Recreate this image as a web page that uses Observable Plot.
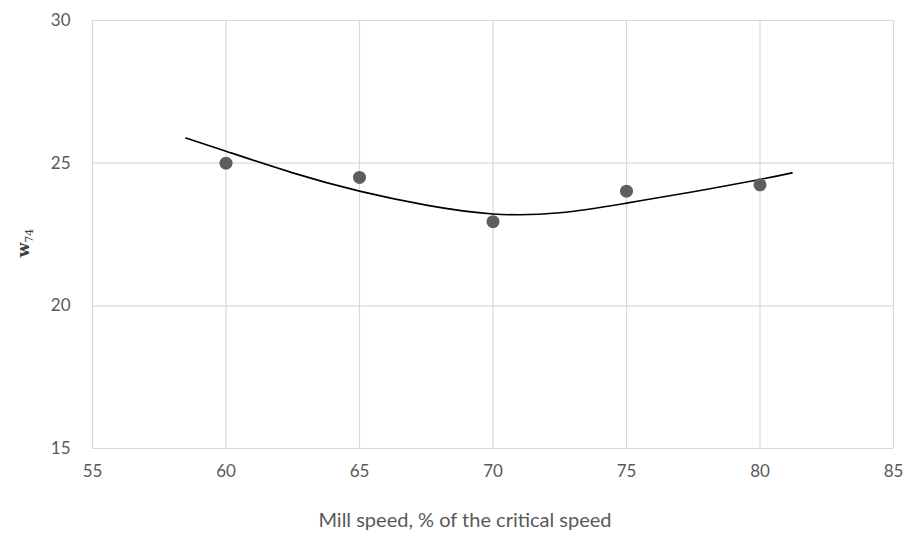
<!DOCTYPE html>
<html>
<head>
<meta charset="utf-8">
<script src="https://cdn.jsdelivr.net/npm/d3@7"></script>
<script src="https://cdn.jsdelivr.net/npm/@observablehq/plot@0.6"></script>
<style>
  html, body { margin: 0; padding: 0; background: #fff; }
  #chart svg { display: block; }
</style>
</head>
<body>
<div id="chart"></div>
<script>
// Measured points
const speeds = [60, 65, 70, 75, 80];
const w74 = [25.0, 24.5, 22.95, 24.02, 24.24];

// Trendline
const trendX = [58.5, 60, 62.5, 65, 67.5, 70, 72.5, 75, 77.5, 80, 81.2];
const trendY = [25.88, 25.42, 24.66, 24.02, 23.53, 23.22, 23.26, 23.6, 24.0, 24.43, 24.66];

const xTicks = [55, 60, 65, 70, 75, 80, 85];
const yTicks = [15, 20, 25, 30];

const xTitle = "Mill speed, % of the critical speed";

const points = speeds.map((s, i) => ({x: s, y: w74[i]}));
const trend = trendX.map((s, i) => ({x: s, y: trendY[i]}));

const FONT = "Lato, 'Open Sans', sans-serif";

const chart = Plot.plot({
  width: 910,
  height: 536,
  marginLeft: 92,
  marginRight: 17,
  marginTop: 20,
  marginBottom: 88,
  style: {fontFamily: FONT, fontSize: "17px", color: "#595959", background: "#fff"},
  x: {domain: [55, 85], ticks: xTicks, tickSize: 0, tickPadding: 16, label: null},
  y: {domain: [15, 30], ticks: yTicks, tickSize: 0, tickPadding: 22, label: null},
  marks: [
    Plot.gridX(xTicks, {stroke: "#d9d9d9", strokeOpacity: 1, strokeWidth: 1.2}),
    Plot.gridY(yTicks, {stroke: "#d9d9d9", strokeOpacity: 1, strokeWidth: 1.2}),
    Plot.line(trend, {x: "x", y: "y", stroke: "#000", strokeWidth: 1.6, curve: "natural"}),
    Plot.dot(points, {x: "x", y: "y", r: 6.5, fill: "#5e5e5e", stroke: "none"})
  ]
});

const svg = d3.select(chart);
svg.append("text")
  .attr("x", 465).attr("y", 527)
  .attr("text-anchor", "middle")
  .attr("fill", "#595959")
  .style("font-family", FONT)
  .style("font-size", "20px")
  .text(xTitle);

const yl = svg.append("text")
  .attr("transform", "translate(29,243) rotate(-90)")
  .attr("text-anchor", "middle")
  .attr("fill", "#404040")
  .style("font-family", "'DejaVu Serif', serif")
  .style("font-weight", "bold")
  .style("font-size", "17px");
yl.append("tspan").text("w");
yl.append("tspan").attr("dy", "0.35em").style("font-size", "11px").style("font-weight", "normal").text("74");

document.getElementById("chart").appendChild(chart);
</script>
</body>
</html>
